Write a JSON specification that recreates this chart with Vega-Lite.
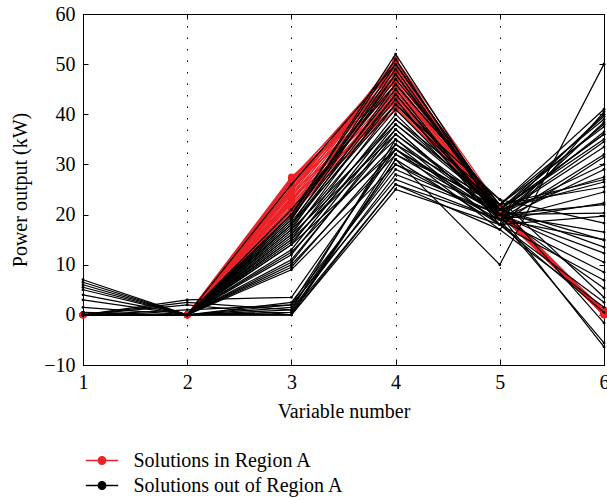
{
  "$schema": "https://vega.github.io/schema/vega-lite/v6.json",
  "width": 521,
  "height": 351,
  "autosize": "none",
  "padding": {"left": 83, "top": 14, "right": 3, "bottom": 135},
  "background": "white",
  "config": {
    "font": "Liberation Serif",
    "view": {"stroke": "black", "strokeWidth": 1},
    "axis": {
      "domainColor": "black",
      "tickColor": "black",
      "labelColor": "black",
      "titleColor": "black",
      "labelFont": "Liberation Serif",
      "titleFont": "Liberation Serif",
      "labelFontSize": 20,
      "titleFontSize": 20,
      "titleFontWeight": "normal",
      "tickSize": -5
    },
    "legend": {"labelFont": "Liberation Serif", "labelFontSize": 20, "labelColor": "black", "labelLimit": 0}
  },
  "data": {"values": [
    {"s":1,"g":"in","x":1,"y":0},{"s":1,"g":"in","x":2,"y":0},{"s":1,"g":"in","x":3,"y":20},{"s":1,"g":"in","x":4,"y":42},{"s":1,"g":"in","x":5,"y":20.5},{"s":1,"g":"in","x":6,"y":0.3},
    {"s":2,"g":"in","x":1,"y":0},{"s":2,"g":"in","x":2,"y":0},{"s":2,"g":"in","x":3,"y":20.5},{"s":2,"g":"in","x":4,"y":43},{"s":2,"g":"in","x":5,"y":21},{"s":2,"g":"in","x":6,"y":0.5},
    {"s":3,"g":"in","x":1,"y":0},{"s":3,"g":"in","x":2,"y":0},{"s":3,"g":"in","x":3,"y":21},{"s":3,"g":"in","x":4,"y":44},{"s":3,"g":"in","x":5,"y":20},{"s":3,"g":"in","x":6,"y":0},
    {"s":4,"g":"in","x":1,"y":0},{"s":4,"g":"in","x":2,"y":0},{"s":4,"g":"in","x":3,"y":21.5},{"s":4,"g":"in","x":4,"y":45},{"s":4,"g":"in","x":5,"y":21.5},{"s":4,"g":"in","x":6,"y":0.8},
    {"s":5,"g":"in","x":1,"y":0},{"s":5,"g":"in","x":2,"y":0},{"s":5,"g":"in","x":3,"y":22},{"s":5,"g":"in","x":4,"y":46},{"s":5,"g":"in","x":5,"y":20.5},{"s":5,"g":"in","x":6,"y":0.2},
    {"s":6,"g":"in","x":1,"y":0},{"s":6,"g":"in","x":2,"y":0},{"s":6,"g":"in","x":3,"y":22.5},{"s":6,"g":"in","x":4,"y":47},{"s":6,"g":"in","x":5,"y":21},{"s":6,"g":"in","x":6,"y":0.6},
    {"s":7,"g":"in","x":1,"y":0},{"s":7,"g":"in","x":2,"y":0},{"s":7,"g":"in","x":3,"y":23},{"s":7,"g":"in","x":4,"y":48},{"s":7,"g":"in","x":5,"y":20},{"s":7,"g":"in","x":6,"y":0},
    {"s":8,"g":"in","x":1,"y":0},{"s":8,"g":"in","x":2,"y":0},{"s":8,"g":"in","x":3,"y":23.5},{"s":8,"g":"in","x":4,"y":49},{"s":8,"g":"in","x":5,"y":21},{"s":8,"g":"in","x":6,"y":0.4},
    {"s":9,"g":"in","x":1,"y":0},{"s":9,"g":"in","x":2,"y":0},{"s":9,"g":"in","x":3,"y":24},{"s":9,"g":"in","x":4,"y":50},{"s":9,"g":"in","x":5,"y":20.5},{"s":9,"g":"in","x":6,"y":1},
    {"s":10,"g":"in","x":1,"y":0},{"s":10,"g":"in","x":2,"y":0},{"s":10,"g":"in","x":3,"y":24.5},{"s":10,"g":"in","x":4,"y":51},{"s":10,"g":"in","x":5,"y":21.5},{"s":10,"g":"in","x":6,"y":0.2},
    {"s":11,"g":"in","x":1,"y":0},{"s":11,"g":"in","x":2,"y":0},{"s":11,"g":"in","x":3,"y":25},{"s":11,"g":"in","x":4,"y":50.5},{"s":11,"g":"in","x":5,"y":20},{"s":11,"g":"in","x":6,"y":0},
    {"s":12,"g":"in","x":1,"y":0},{"s":12,"g":"in","x":2,"y":0},{"s":12,"g":"in","x":3,"y":25.5},{"s":12,"g":"in","x":4,"y":49.5},{"s":12,"g":"in","x":5,"y":21},{"s":12,"g":"in","x":6,"y":0.5},
    {"s":13,"g":"in","x":1,"y":0},{"s":13,"g":"in","x":2,"y":0},{"s":13,"g":"in","x":3,"y":26},{"s":13,"g":"in","x":4,"y":48.5},{"s":13,"g":"in","x":5,"y":20.5},{"s":13,"g":"in","x":6,"y":0.3},
    {"s":14,"g":"in","x":1,"y":0},{"s":14,"g":"in","x":2,"y":0},{"s":14,"g":"in","x":3,"y":26.5},{"s":14,"g":"in","x":4,"y":47.5},{"s":14,"g":"in","x":5,"y":21},{"s":14,"g":"in","x":6,"y":0.7},
    {"s":15,"g":"in","x":1,"y":0},{"s":15,"g":"in","x":2,"y":0},{"s":15,"g":"in","x":3,"y":27},{"s":15,"g":"in","x":4,"y":46.5},{"s":15,"g":"in","x":5,"y":20},{"s":15,"g":"in","x":6,"y":0},
    {"s":16,"g":"in","x":1,"y":0},{"s":16,"g":"in","x":2,"y":0},{"s":16,"g":"in","x":3,"y":27.5},{"s":16,"g":"in","x":4,"y":45.5},{"s":16,"g":"in","x":5,"y":21.5},{"s":16,"g":"in","x":6,"y":0.4},
    {"s":17,"g":"in","x":1,"y":0},{"s":17,"g":"in","x":2,"y":0},{"s":17,"g":"in","x":3,"y":20.2},{"s":17,"g":"in","x":4,"y":44.5},{"s":17,"g":"in","x":5,"y":20.5},{"s":17,"g":"in","x":6,"y":0.1},
    {"s":18,"g":"in","x":1,"y":0},{"s":18,"g":"in","x":2,"y":0},{"s":18,"g":"in","x":3,"y":21.2},{"s":18,"g":"in","x":4,"y":43.5},{"s":18,"g":"in","x":5,"y":21},{"s":18,"g":"in","x":6,"y":0.6},
    {"s":19,"g":"in","x":1,"y":0},{"s":19,"g":"in","x":2,"y":0},{"s":19,"g":"in","x":3,"y":22.2},{"s":19,"g":"in","x":4,"y":42.5},{"s":19,"g":"in","x":5,"y":20.5},{"s":19,"g":"in","x":6,"y":0},
    {"s":20,"g":"in","x":1,"y":0},{"s":20,"g":"in","x":2,"y":0},{"s":20,"g":"in","x":3,"y":23.2},{"s":20,"g":"in","x":4,"y":41.5},{"s":20,"g":"in","x":5,"y":20},{"s":20,"g":"in","x":6,"y":0.9},
    {"s":21,"g":"in","x":1,"y":0},{"s":21,"g":"in","x":2,"y":0},{"s":21,"g":"in","x":3,"y":24.2},{"s":21,"g":"in","x":4,"y":43},{"s":21,"g":"in","x":5,"y":21},{"s":21,"g":"in","x":6,"y":0.2},
    {"s":22,"g":"in","x":1,"y":0},{"s":22,"g":"in","x":2,"y":0},{"s":22,"g":"in","x":3,"y":25.2},{"s":22,"g":"in","x":4,"y":45},{"s":22,"g":"in","x":5,"y":20.5},{"s":22,"g":"in","x":6,"y":0.5},
    {"s":23,"g":"in","x":1,"y":0},{"s":23,"g":"in","x":2,"y":0},{"s":23,"g":"in","x":3,"y":26.2},{"s":23,"g":"in","x":4,"y":47},{"s":23,"g":"in","x":5,"y":21.5},{"s":23,"g":"in","x":6,"y":0},
    {"s":24,"g":"in","x":1,"y":0},{"s":24,"g":"in","x":2,"y":0},{"s":24,"g":"in","x":3,"y":27.2},{"s":24,"g":"in","x":4,"y":49},{"s":24,"g":"in","x":5,"y":20.5},{"s":24,"g":"in","x":6,"y":0.3},
    {"s":25,"g":"in","x":1,"y":0},{"s":25,"g":"in","x":2,"y":0},{"s":25,"g":"in","x":3,"y":20.8},{"s":25,"g":"in","x":4,"y":41},{"s":25,"g":"in","x":5,"y":21},{"s":25,"g":"in","x":6,"y":0.6},
    {"s":26,"g":"in","x":1,"y":0},{"s":26,"g":"in","x":2,"y":0},{"s":26,"g":"in","x":3,"y":22.8},{"s":26,"g":"in","x":4,"y":46},{"s":26,"g":"in","x":5,"y":20},{"s":26,"g":"in","x":6,"y":0.1},
    {"s":27,"g":"in","x":1,"y":0},{"s":27,"g":"in","x":2,"y":0},{"s":27,"g":"in","x":3,"y":24.8},{"s":27,"g":"in","x":4,"y":48},{"s":27,"g":"in","x":5,"y":21},{"s":27,"g":"in","x":6,"y":0.4},
    {"s":28,"g":"in","x":1,"y":0},{"s":28,"g":"in","x":2,"y":0},{"s":28,"g":"in","x":3,"y":26.8},{"s":28,"g":"in","x":4,"y":50},{"s":28,"g":"in","x":5,"y":20.5},{"s":28,"g":"in","x":6,"y":0},
    {"s":101,"g":"out","x":1,"y":7},{"s":101,"g":"out","x":2,"y":0},{"s":101,"g":"out","x":3,"y":0.5},{"s":101,"g":"out","x":4,"y":26},{"s":101,"g":"out","x":5,"y":19},{"s":101,"g":"out","x":6,"y":15},
    {"s":102,"g":"out","x":1,"y":6.5},{"s":102,"g":"out","x":2,"y":0},{"s":102,"g":"out","x":3,"y":1},{"s":102,"g":"out","x":4,"y":28},{"s":102,"g":"out","x":5,"y":20},{"s":102,"g":"out","x":6,"y":22},
    {"s":103,"g":"out","x":1,"y":6},{"s":103,"g":"out","x":2,"y":0},{"s":103,"g":"out","x":3,"y":0},{"s":103,"g":"out","x":4,"y":25},{"s":103,"g":"out","x":5,"y":18},{"s":103,"g":"out","x":6,"y":2.5},
    {"s":104,"g":"out","x":1,"y":5.5},{"s":104,"g":"out","x":2,"y":0},{"s":104,"g":"out","x":3,"y":1.5},{"s":104,"g":"out","x":4,"y":30},{"s":104,"g":"out","x":5,"y":21},{"s":104,"g":"out","x":6,"y":36},
    {"s":105,"g":"out","x":1,"y":5},{"s":105,"g":"out","x":2,"y":0},{"s":105,"g":"out","x":3,"y":0.5},{"s":105,"g":"out","x":4,"y":31},{"s":105,"g":"out","x":5,"y":10},{"s":105,"g":"out","x":6,"y":50},
    {"s":106,"g":"out","x":1,"y":4},{"s":106,"g":"out","x":2,"y":0},{"s":106,"g":"out","x":3,"y":2},{"s":106,"g":"out","x":4,"y":27},{"s":106,"g":"out","x":5,"y":19},{"s":106,"g":"out","x":6,"y":8.5},
    {"s":107,"g":"out","x":1,"y":3},{"s":107,"g":"out","x":2,"y":0},{"s":107,"g":"out","x":3,"y":0},{"s":107,"g":"out","x":4,"y":32},{"s":107,"g":"out","x":5,"y":22},{"s":107,"g":"out","x":6,"y":39},
    {"s":108,"g":"out","x":1,"y":1.5},{"s":108,"g":"out","x":2,"y":0},{"s":108,"g":"out","x":3,"y":2.5},{"s":108,"g":"out","x":4,"y":29},{"s":108,"g":"out","x":5,"y":20},{"s":108,"g":"out","x":6,"y":12.3},
    {"s":109,"g":"out","x":1,"y":0},{"s":109,"g":"out","x":2,"y":3},{"s":109,"g":"out","x":3,"y":3.5},{"s":109,"g":"out","x":4,"y":33},{"s":109,"g":"out","x":5,"y":21},{"s":109,"g":"out","x":6,"y":27.5},
    {"s":110,"g":"out","x":1,"y":0},{"s":110,"g":"out","x":2,"y":2.5},{"s":110,"g":"out","x":3,"y":1},{"s":110,"g":"out","x":4,"y":35},{"s":110,"g":"out","x":5,"y":20},{"s":110,"g":"out","x":6,"y":5.3},
    {"s":111,"g":"out","x":1,"y":0},{"s":111,"g":"out","x":2,"y":2},{"s":111,"g":"out","x":3,"y":0},{"s":111,"g":"out","x":4,"y":31},{"s":111,"g":"out","x":5,"y":18},{"s":111,"g":"out","x":6,"y":19.7},
    {"s":112,"g":"out","x":1,"y":0},{"s":112,"g":"out","x":2,"y":1},{"s":112,"g":"out","x":3,"y":2},{"s":112,"g":"out","x":4,"y":34},{"s":112,"g":"out","x":5,"y":22},{"s":112,"g":"out","x":6,"y":-1.6},
    {"s":113,"g":"out","x":1,"y":0.5},{"s":113,"g":"out","x":2,"y":0},{"s":113,"g":"out","x":3,"y":0},{"s":113,"g":"out","x":4,"y":26},{"s":113,"g":"out","x":5,"y":17},{"s":113,"g":"out","x":6,"y":1.5},
    {"s":114,"g":"out","x":1,"y":0},{"s":114,"g":"out","x":2,"y":0},{"s":114,"g":"out","x":3,"y":9},{"s":114,"g":"out","x":4,"y":30},{"s":114,"g":"out","x":5,"y":19},{"s":114,"g":"out","x":6,"y":24.5},
    {"s":115,"g":"out","x":1,"y":0},{"s":115,"g":"out","x":2,"y":0},{"s":115,"g":"out","x":3,"y":10},{"s":115,"g":"out","x":4,"y":32},{"s":115,"g":"out","x":5,"y":20},{"s":115,"g":"out","x":6,"y":33.5},
    {"s":116,"g":"out","x":1,"y":0},{"s":116,"g":"out","x":2,"y":0},{"s":116,"g":"out","x":3,"y":11},{"s":116,"g":"out","x":4,"y":36},{"s":116,"g":"out","x":5,"y":21},{"s":116,"g":"out","x":6,"y":14.9},
    {"s":117,"g":"out","x":1,"y":0},{"s":117,"g":"out","x":2,"y":0},{"s":117,"g":"out","x":3,"y":12},{"s":117,"g":"out","x":4,"y":38},{"s":117,"g":"out","x":5,"y":22},{"s":117,"g":"out","x":6,"y":41},
    {"s":118,"g":"out","x":1,"y":0},{"s":118,"g":"out","x":2,"y":0},{"s":118,"g":"out","x":3,"y":12.5},{"s":118,"g":"out","x":4,"y":34},{"s":118,"g":"out","x":5,"y":18},{"s":118,"g":"out","x":6,"y":6.9},
    {"s":119,"g":"out","x":1,"y":0},{"s":119,"g":"out","x":2,"y":0},{"s":119,"g":"out","x":3,"y":10.5},{"s":119,"g":"out","x":4,"y":37},{"s":119,"g":"out","x":5,"y":19},{"s":119,"g":"out","x":6,"y":29},
    {"s":120,"g":"out","x":1,"y":0},{"s":120,"g":"out","x":2,"y":0},{"s":120,"g":"out","x":3,"y":9.5},{"s":120,"g":"out","x":4,"y":33},{"s":120,"g":"out","x":5,"y":20},{"s":120,"g":"out","x":6,"y":16.5},
    {"s":121,"g":"out","x":1,"y":0},{"s":121,"g":"out","x":2,"y":0},{"s":121,"g":"out","x":3,"y":13},{"s":121,"g":"out","x":4,"y":39},{"s":121,"g":"out","x":5,"y":23},{"s":121,"g":"out","x":6,"y":3.5},
    {"s":122,"g":"out","x":1,"y":0},{"s":122,"g":"out","x":2,"y":0},{"s":122,"g":"out","x":3,"y":14},{"s":122,"g":"out","x":4,"y":40},{"s":122,"g":"out","x":5,"y":20},{"s":122,"g":"out","x":6,"y":40},
    {"s":123,"g":"out","x":1,"y":0},{"s":123,"g":"out","x":2,"y":0},{"s":123,"g":"out","x":3,"y":15},{"s":123,"g":"out","x":4,"y":42},{"s":123,"g":"out","x":5,"y":21},{"s":123,"g":"out","x":6,"y":39.6},
    {"s":124,"g":"out","x":1,"y":0},{"s":124,"g":"out","x":2,"y":0},{"s":124,"g":"out","x":3,"y":16},{"s":124,"g":"out","x":4,"y":44},{"s":124,"g":"out","x":5,"y":19},{"s":124,"g":"out","x":6,"y":38.4},
    {"s":125,"g":"out","x":1,"y":0},{"s":125,"g":"out","x":2,"y":0},{"s":125,"g":"out","x":3,"y":17},{"s":125,"g":"out","x":4,"y":46},{"s":125,"g":"out","x":5,"y":22},{"s":125,"g":"out","x":6,"y":37.5},
    {"s":126,"g":"out","x":1,"y":0},{"s":126,"g":"out","x":2,"y":0},{"s":126,"g":"out","x":3,"y":18},{"s":126,"g":"out","x":4,"y":48},{"s":126,"g":"out","x":5,"y":20},{"s":126,"g":"out","x":6,"y":36.5},
    {"s":127,"g":"out","x":1,"y":0},{"s":127,"g":"out","x":2,"y":0},{"s":127,"g":"out","x":3,"y":19},{"s":127,"g":"out","x":4,"y":50},{"s":127,"g":"out","x":5,"y":21},{"s":127,"g":"out","x":6,"y":36},
    {"s":128,"g":"out","x":1,"y":0},{"s":128,"g":"out","x":2,"y":0},{"s":128,"g":"out","x":3,"y":20},{"s":128,"g":"out","x":4,"y":52},{"s":128,"g":"out","x":5,"y":20},{"s":128,"g":"out","x":6,"y":34.5},
    {"s":129,"g":"out","x":1,"y":0},{"s":129,"g":"out","x":2,"y":0},{"s":129,"g":"out","x":3,"y":18.5},{"s":129,"g":"out","x":4,"y":45},{"s":129,"g":"out","x":5,"y":19},{"s":129,"g":"out","x":6,"y":32},
    {"s":130,"g":"out","x":1,"y":0},{"s":130,"g":"out","x":2,"y":0},{"s":130,"g":"out","x":3,"y":17.5},{"s":130,"g":"out","x":4,"y":43},{"s":130,"g":"out","x":5,"y":18},{"s":130,"g":"out","x":6,"y":31.5},
    {"s":131,"g":"out","x":1,"y":0},{"s":131,"g":"out","x":2,"y":0},{"s":131,"g":"out","x":3,"y":16.5},{"s":131,"g":"out","x":4,"y":41},{"s":131,"g":"out","x":5,"y":20},{"s":131,"g":"out","x":6,"y":30},
    {"s":132,"g":"out","x":1,"y":0},{"s":132,"g":"out","x":2,"y":0},{"s":132,"g":"out","x":3,"y":15.5},{"s":132,"g":"out","x":4,"y":39},{"s":132,"g":"out","x":5,"y":21},{"s":132,"g":"out","x":6,"y":26.5},
    {"s":133,"g":"out","x":1,"y":0},{"s":133,"g":"out","x":2,"y":0},{"s":133,"g":"out","x":3,"y":19.5},{"s":133,"g":"out","x":4,"y":47},{"s":133,"g":"out","x":5,"y":22},{"s":133,"g":"out","x":6,"y":25.5},
    {"s":134,"g":"out","x":1,"y":0},{"s":134,"g":"out","x":2,"y":0},{"s":134,"g":"out","x":3,"y":14.5},{"s":134,"g":"out","x":4,"y":37},{"s":134,"g":"out","x":5,"y":19},{"s":134,"g":"out","x":6,"y":22.3},
    {"s":135,"g":"out","x":1,"y":0},{"s":135,"g":"out","x":2,"y":0},{"s":135,"g":"out","x":3,"y":16},{"s":135,"g":"out","x":4,"y":36},{"s":135,"g":"out","x":5,"y":20},{"s":135,"g":"out","x":6,"y":20.3},
    {"s":136,"g":"out","x":1,"y":0},{"s":136,"g":"out","x":2,"y":0},{"s":136,"g":"out","x":3,"y":18},{"s":136,"g":"out","x":4,"y":42},{"s":136,"g":"out","x":5,"y":23},{"s":136,"g":"out","x":6,"y":18.3},
    {"s":137,"g":"out","x":1,"y":0},{"s":137,"g":"out","x":2,"y":0},{"s":137,"g":"out","x":3,"y":17},{"s":137,"g":"out","x":4,"y":38},{"s":137,"g":"out","x":5,"y":21},{"s":137,"g":"out","x":6,"y":13.5},
    {"s":138,"g":"out","x":1,"y":0},{"s":138,"g":"out","x":2,"y":0},{"s":138,"g":"out","x":3,"y":19},{"s":138,"g":"out","x":4,"y":49},{"s":138,"g":"out","x":5,"y":20},{"s":138,"g":"out","x":6,"y":10.5},
    {"s":139,"g":"out","x":1,"y":0},{"s":139,"g":"out","x":2,"y":0},{"s":139,"g":"out","x":3,"y":20},{"s":139,"g":"out","x":4,"y":51},{"s":139,"g":"out","x":5,"y":19},{"s":139,"g":"out","x":6,"y":-5.6},
    {"s":140,"g":"out","x":1,"y":0},{"s":140,"g":"out","x":2,"y":0},{"s":140,"g":"out","x":3,"y":18},{"s":140,"g":"out","x":4,"y":44},{"s":140,"g":"out","x":5,"y":20},{"s":140,"g":"out","x":6,"y":-6.4},
    {"s":141,"g":"out","x":1,"y":0},{"s":141,"g":"out","x":2,"y":0},{"s":141,"g":"out","x":3,"y":15},{"s":141,"g":"out","x":4,"y":35},{"s":141,"g":"out","x":5,"y":18},{"s":141,"g":"out","x":6,"y":0.5},
    {"s":142,"g":"out","x":1,"y":0},{"s":142,"g":"out","x":2,"y":0},{"s":142,"g":"out","x":3,"y":21},{"s":142,"g":"out","x":4,"y":46},{"s":142,"g":"out","x":5,"y":22},{"s":142,"g":"out","x":6,"y":27},
    {"s":143,"g":"out","x":1,"y":0},{"s":143,"g":"out","x":2,"y":0},{"s":143,"g":"out","x":3,"y":20},{"s":143,"g":"out","x":4,"y":48},{"s":143,"g":"out","x":5,"y":21},{"s":143,"g":"out","x":6,"y":35},
    {"s":144,"g":"out","x":1,"y":0},{"s":144,"g":"out","x":2,"y":0},{"s":144,"g":"out","x":3,"y":26},{"s":144,"g":"out","x":4,"y":50},{"s":144,"g":"out","x":5,"y":21},{"s":144,"g":"out","x":6,"y":38},
    {"s":145,"g":"out","x":1,"y":0},{"s":145,"g":"out","x":2,"y":0},{"s":145,"g":"out","x":3,"y":14},{"s":145,"g":"out","x":4,"y":33},{"s":145,"g":"out","x":5,"y":17},{"s":145,"g":"out","x":6,"y":40.5}
  ]},
  "layer": [
    {
      "transform": [{"filter": "datum.g == 'in'"}],
      "mark": {"type": "line", "strokeWidth": 1.3},
      "encoding": {
        "x": {"field": "x", "type": "quantitative", "scale": {"domain": [1, 6], "nice": false},
          "axis": {"orient": "bottom", "values": [1, 2, 3, 4, 5, 6], "title": "Variable number", "grid": true, "gridColor": "black", "gridDash": [1.5, 10], "gridWidth": 1, "labelPadding": 12, "titlePadding": 9, "labelFlush": false}},
        "y": {"field": "y", "type": "quantitative", "scale": {"domain": [-10, 60], "nice": false},
          "axis": {"orient": "left", "values": [-10, 0, 10, 20, 30, 40, 50, 60], "title": "Power output (kW)", "grid": false, "labelPadding": 13, "titlePadding": 13}},
        "color": {"field": "g", "type": "nominal", "scale": {"domain": ["in", "out"], "range": ["#ec2227", "#000000"]},
          "legend": {"orient": "none", "legendX": 4.5, "legendY": 432, "title": null, "padding": 0, "symbolType": "M-1.2,0H1.2M-0.28,0a0.28,0.28 0 1,0 0.56,0a0.28,0.28 0 1,0 -0.56,0", "symbolSize": 729, "symbolStrokeWidth": 1.3, "labelOffset": 17, "rowPadding": 0, "labelLimit": 0, "labelExpr": "datum.label == 'in' ? 'Solutions in Region A' : 'Solutions out of Region A'"}},
        "detail": {"field": "s", "type": "nominal"}
      }
    },
    {
      "transform": [{"filter": "datum.g == 'in'"}],
      "mark": {"type": "circle", "size": 45, "opacity": 1},
      "encoding": {
        "x": {"field": "x", "type": "quantitative", "axis": null},
        "y": {"field": "y", "type": "quantitative", "axis": null},
        "color": {"field": "g", "type": "nominal"}
      }
    },
    {
      "transform": [{"filter": "datum.g == 'out'"}],
      "mark": {"type": "line", "strokeWidth": 1.2},
      "encoding": {
        "x": {"field": "x", "type": "quantitative", "axis": {"orient": "top", "values": [1, 2, 3, 4, 5, 6], "labels": false, "title": null, "domain": false, "grid": false}},
        "y": {"field": "y", "type": "quantitative", "axis": {"orient": "right", "values": [-10, 0, 10, 20, 30, 40, 50, 60], "labels": false, "title": null, "domain": false, "grid": false}},
        "color": {"field": "g", "type": "nominal"},
        "detail": {"field": "s", "type": "nominal"}
      }
    },
    {
      "transform": [{"filter": "datum.g == 'out'"}],
      "mark": {"type": "circle", "size": 8, "opacity": 1},
      "encoding": {
        "x": {"field": "x", "type": "quantitative", "axis": null},
        "y": {"field": "y", "type": "quantitative", "axis": null},
        "color": {"field": "g", "type": "nominal"}
      }
    }
  ],
  "resolve": {"axis": {"x": "independent", "y": "independent"}}
}
